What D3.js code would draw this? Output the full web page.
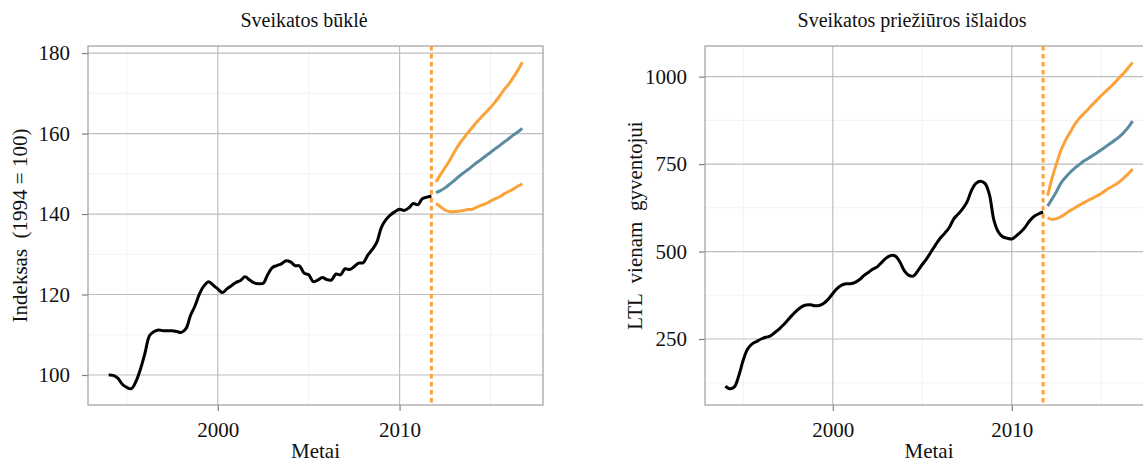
<!DOCTYPE html>
<html>
<head>
<meta charset="utf-8">
<script src="https://cdn.jsdelivr.net/npm/d3@7"></script>
<style>
    body { margin: 0; background: #fff; }
    svg { display: block; font-family: 'Liberation Serif', 'Times New Roman', serif; }
</style>
</head>
<body>
<svg width="1143" height="464"></svg>
<script>
// Quarterly time points
const histYears = d3.range(72).map((i) => 1994 + i * 0.25);
const fcYears = d3.range(20).map((i) => 2012 + i * 0.25);
const splitYear = 2011.75;

// Panel 1: Sveikatos būklė (index, 1994 = 100)
const healthHist = [
    100.0, 99.9, 99.2, 97.7, 96.9, 96.6, 98.4, 101.5, 105.5, 109.8, 110.8, 111.2,
    111.0, 111.0, 111.0, 110.8, 110.6, 111.5, 114.8, 117.2, 120.2, 122.2, 123.2, 122.3,
    121.4, 120.5, 121.4, 122.2, 123.0, 123.5, 124.4, 123.6, 122.9, 122.7, 122.8, 125.0,
    126.7, 127.2, 127.6, 128.4, 128.1, 127.2, 127.1, 125.3, 124.9, 123.2, 123.6, 124.2,
    123.7, 123.6, 125.1, 124.9, 126.4, 126.2, 126.9, 127.8, 127.9, 129.8, 131.2, 133.0,
    136.7, 138.6, 139.8, 140.6, 141.2, 140.9, 141.5, 142.6, 142.3, 143.8, 144.2, 144.5
];
const healthUpper = [
    148.0, 149.8, 151.5, 153.3, 155.3, 157.2, 158.7, 160.2, 161.5, 162.9,
    164.1, 165.3, 166.5, 167.8, 169.3, 170.9, 172.3, 173.9, 175.7, 177.7
];
const healthMean = [
    145.3, 145.8, 146.5, 147.4, 148.3, 149.3, 150.2, 151.0, 151.9, 152.8,
    153.6, 154.5, 155.3, 156.2, 157.0, 157.9, 158.7, 159.6, 160.4, 161.3
];
const healthLower = [
    142.6, 141.8, 141.0, 140.6, 140.6, 140.7, 140.9, 141.1, 141.2, 141.7,
    142.2, 142.6, 143.2, 143.8, 144.3, 145.0, 145.6, 146.2, 146.9, 147.5
];

// Panel 2: Sveikatos priežiūros išlaidos (LTL per resident)
const costHist = [
    115, 108, 113, 145, 190, 222, 236, 243, 250, 255, 258, 268,
    278, 291, 305, 319, 332, 342, 347, 348, 345, 346, 352, 364,
    380, 395, 404, 408, 408, 412, 420, 432, 441, 450, 457, 470,
    482, 489, 487, 470, 445, 432, 430, 445, 463, 480, 500, 520,
    538, 552, 568, 593, 607, 622, 642, 675, 695, 701, 695, 663,
    590, 556, 542, 538, 536, 545, 556, 570, 588, 601, 608, 613
];
const costUpper = [
    660, 710, 752, 790, 818, 840, 862, 880, 893, 906,
    920, 933, 946, 958, 970, 983, 997, 1010, 1025, 1041
];
const costMean = [
    630, 650, 672, 696, 712, 726, 738, 748, 758, 766,
    774, 782, 791, 800, 809, 818, 828, 840, 855, 873
];
const costLower = [
    596, 592, 594, 600, 608, 617, 624, 632, 639, 646,
    652, 659, 666, 675, 683, 690, 699, 710, 722, 736
];

const xTicks = [2000, 2010];
const xMinor = [1995, 2005, 2015];
const healthTicks = [100, 120, 140, 160, 180];
const healthMinor = [110, 130, 150, 170];
const costTicks = [250, 500, 750, 1000];
const costMinor = [125, 375, 625, 875];

const svg = d3.select('svg');

const orange = '#FBA33A';
const blue = '#5B8BA1';
const fontSize = '21px';

drawPanel({
    left: 88, right: 543, top: 46, bottom: 405,
    titleX: 304,
    title: 'Sveikatos būklė',
    yTitle: 'Indeksas  (1994 = 100)',
    yTitleX: 27,
    hist: healthHist, upper: healthUpper, mean: healthMean, lower: healthLower,
    yTicks: healthTicks, yMinor: healthMinor
});

drawPanel({
    left: 705, right: 1153, top: 46, bottom: 405,
    titleX: 912,
    title: 'Sveikatos priežiūros išlaidos',
    yTitle: 'LTL  vienam  gyventojui',
    yTitleX: 642,
    hist: costHist, upper: costUpper, mean: costMean, lower: costLower,
    yTicks: costTicks, yMinor: costMinor
});

function drawPanel(p) {
    const g = svg.append('g');

    // ggplot style 5% expansion of the data range
    const xExt = [histYears[0], fcYears[fcYears.length - 1]];
    const xPad = (xExt[1] - xExt[0]) * 0.05;
    const x = d3.scaleLinear().domain([xExt[0] - xPad, xExt[1] + xPad]).range([p.left, p.right]);

    const allY = p.hist.concat(p.upper, p.lower);
    const yExt = d3.extent(allY);
    const yPad = (yExt[1] - yExt[0]) * 0.05;
    const y = d3.scaleLinear().domain([yExt[0] - yPad, yExt[1] + yPad]).range([p.bottom, p.top]);

    // Minor grid
    g.append('g')
        .selectAll('line')
        .data(p.yMinor)
        .join('line')
        .attr('x1', p.left).attr('x2', p.right)
        .attr('y1', (d) => y(d)).attr('y2', (d) => y(d))
        .attr('stroke', '#F2F2F2').attr('stroke-width', 1);
    g.append('g')
        .selectAll('line')
        .data(xMinor)
        .join('line')
        .attr('x1', (d) => x(d)).attr('x2', (d) => x(d))
        .attr('y1', p.top).attr('y2', p.bottom)
        .attr('stroke', '#F2F2F2').attr('stroke-width', 1);

    // Major grid
    g.append('g')
        .selectAll('line')
        .data(p.yTicks)
        .join('line')
        .attr('x1', p.left).attr('x2', p.right)
        .attr('y1', (d) => y(d)).attr('y2', (d) => y(d))
        .attr('stroke', '#BEBEBE').attr('stroke-width', 1.2);
    g.append('g')
        .selectAll('line')
        .data(xTicks)
        .join('line')
        .attr('x1', (d) => x(d)).attr('x2', (d) => x(d))
        .attr('y1', p.top).attr('y2', p.bottom)
        .attr('stroke', '#BEBEBE').attr('stroke-width', 1.2);

    // Axes
    const xAxis = g.append('g')
        .attr('transform', `translate(0,${p.bottom})`)
        .call(d3.axisBottom(x).tickValues(xTicks).tickFormat(d3.format('d')).tickSize(6).tickPadding(11));
    const yAxis = g.append('g')
        .attr('transform', `translate(${p.left},0)`)
        .call(d3.axisLeft(y).tickValues(p.yTicks).tickFormat(d3.format('d')).tickSize(6).tickPadding(12));
    [xAxis, yAxis].forEach((a) => {
        a.select('.domain').remove();
        a.selectAll('.tick line').attr('stroke', '#7F7F7F').attr('stroke-width', 1.2);
        a.selectAll('.tick text')
            .attr('fill', '#111')
            .style('font-family', "'Liberation Serif', serif")
            .style('font-size', fontSize);
    });

    // Panel border
    g.append('rect')
        .attr('x', p.left).attr('y', p.top)
        .attr('width', p.right - p.left).attr('height', p.bottom - p.top)
        .attr('fill', 'none').attr('stroke', '#9E9E9E').attr('stroke-width', 1.2);

    const line = d3.line().x((d) => x(d[0])).y((d) => y(d[1])).curve(d3.curveCatmullRom.alpha(0.5));

    const clipId = 'clip' + p.left;
    svg.append('clipPath').attr('id', clipId)
        .append('rect')
        .attr('x', p.left).attr('y', p.top)
        .attr('width', p.right - p.left).attr('height', p.bottom - p.top);
    const lines = g.append('g').attr('clip-path', `url(#${clipId})`);

    // Forecast split
    lines.append('line')
        .attr('x1', x(splitYear)).attr('x2', x(splitYear))
        .attr('y1', p.top).attr('y2', p.bottom)
        .attr('stroke', orange).attr('stroke-width', 3)
        .attr('stroke-dasharray', '4.5,3.5');

    lines.append('path')
        .datum(d3.zip(histYears, p.hist))
        .attr('d', line)
        .attr('fill', 'none').attr('stroke', '#000').attr('stroke-width', 3)
        .attr('stroke-linejoin', 'round');

    [[p.upper, orange], [p.lower, orange], [p.mean, blue]].forEach(([vals, col]) => {
        lines.append('path')
            .datum(d3.zip(fcYears, vals))
            .attr('d', line)
            .attr('fill', 'none').attr('stroke', col).attr('stroke-width', 3)
            .attr('stroke-linejoin', 'round');
    });

    // Titles
    g.append('text')
        .attr('x', p.titleX)
        .attr('y', 27)
        .attr('text-anchor', 'middle')
        .style('font-size', '20px')
        .attr('fill', '#111')
        .text(p.title);
    g.append('text')
        .attr('x', (p.left + p.right) / 2)
        .attr('y', 458)
        .attr('text-anchor', 'middle')
        .style('font-size', fontSize)
        .attr('fill', '#111')
        .text('Metai');
    g.append('text')
        .attr('transform', `translate(${p.yTitleX},${(p.top + p.bottom) / 2}) rotate(-90)`)
        .attr('text-anchor', 'middle')
        .style('font-size', fontSize)
        .style('white-space', 'pre')
        .attr('fill', '#111')
        .text(p.yTitle);
}
</script>
</body>
</html>
